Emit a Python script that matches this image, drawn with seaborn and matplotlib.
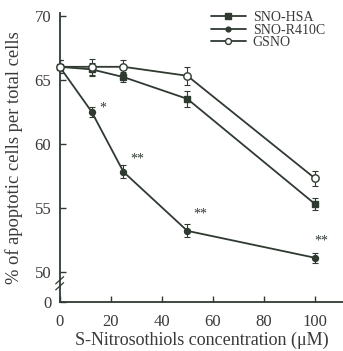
import numpy as np
import pandas as pd
import matplotlib
matplotlib.use("Agg")
import matplotlib.pyplot as plt
import seaborn as sns

conc = [0, 12.5, 25, 50, 100]
sno_hsa = [66.0, 65.8, 65.2, 63.5, 55.3]
sno_hsa_err = [0.5, 0.5, 0.4, 0.6, 0.5]
sno_r410c = [66.0, 62.5, 57.8, 53.2, 51.1]
sno_r410c_err = [0.5, 0.4, 0.5, 0.5, 0.4]
gsno = [66.0, 66.0, 66.0, 65.3, 57.3]
gsno_err = [0.5, 0.6, 0.5, 0.7, 0.6]
series_names = ["SNO-HSA", "SNO-R410C", "GSNO"]
annot_x = [17, 30.5, 55, 102.5]
annot_y = [62.8, 58.8, 54.5, 52.4]
annot_txt = ["*", "**", "**", "**"]
x_ticks = [0, 20, 40, 60, 80, 100]
y_ticks = [0, 50, 55, 60, 65, 70]

sns.set_style("ticks")
plt.rcParams['font.family'] = ['Liberation Serif', 'DejaVu Serif']

df = pd.DataFrame({
    "conc": conc * 3,
    "val": sno_hsa + sno_r410c + gsno,
    "series": [n for n in series_names for _ in conc],
})

LO = 47.66
K = (50 - LO) / 50.0

def fwd(y):
    y = np.asarray(y, dtype=float)
    return np.where(y >= 50, y, LO + y * K)

def inv(v):
    v = np.asarray(v, dtype=float)
    return np.where(v >= 50, v, (v - LO) / K)

col = "#2f3a31"
tcol = "#3a3a3a"
fig = plt.figure(figsize=(3.43, 3.51), dpi=100)
ax = fig.add_axes([0.174, 0.14, 0.826, 0.823])
ax.set_yscale('function', functions=(fwd, inv))

markers = {"SNO-HSA": "s", "SNO-R410C": "o", "GSNO": "o"}
sizes = {"SNO-HSA": 5, "SNO-R410C": 4.3, "GSNO": 5.3}
faces = {"SNO-HSA": col, "SNO-R410C": col, "GSNO": "white"}
errs = {"SNO-HSA": sno_hsa_err, "SNO-R410C": sno_r410c_err, "GSNO": gsno_err}
vals = {"SNO-HSA": sno_hsa, "SNO-R410C": sno_r410c, "GSNO": gsno}

for name in series_names:
    ax.errorbar(conc, vals[name], yerr=errs[name], fmt='none', ecolor=col,
                elinewidth=0.8, capsize=2.0, capthick=0.8, zorder=2)

for name in series_names:
    sub = df[df.series == name]
    sns.lineplot(data=sub, x="conc", y="val", ax=ax, color=col, lw=1.3,
                 marker=markers[name], markersize=sizes[name],
                 markerfacecolor=faces[name], markeredgecolor=col,
                 markeredgewidth=1.0, label=name, zorder=3, clip_on=False)

for x, y, t in zip(annot_x, annot_y, annot_txt):
    ax.text(x, y, t, fontsize=10, color=col, ha='center', va='center')

ax.set_xlim(0, 111)
ax.set_ylim(0, 70.2)
ax.set_xticks(x_ticks)
ax.set_yticks(y_ticks)
ax.tick_params(direction='in', length=4, width=1, colors=col, labelcolor=tcol, labelsize=12)
ax.xaxis.set_tick_params(pad=8.5)
ax.yaxis.set_tick_params(pad=6)
for s in ['top', 'right']:
    ax.spines[s].set_visible(False)
for s in ['left', 'bottom']:
    ax.spines[s].set_color(col)
    ax.spines[s].set_linewidth(1.3)

ax.set_xlabel("S-Nitrosothiols concentration (\u03bcM)", fontsize=13, color=tcol, labelpad=1.5)
ax.set_ylabel("% of apoptotic cells per total cells", fontsize=13.3, color=tcol, labelpad=8)

# axis break marks
btr = ax.get_yaxis_transform()
for y0 in [20, 30]:
    ax.plot([-0.014, 0.014], [y0, y0 + 12], color=col, lw=0.9, transform=btr,
            clip_on=False, zorder=5)

leg = ax.legend(loc='upper right', bbox_to_anchor=(0.965, 1.035), frameon=False, fontsize=10,
                handlelength=2.5, handletextpad=0.5, labelspacing=-0.05, borderaxespad=0.2,
                markerscale=0.8)
for t in leg.get_texts():
    t.set_color(tcol)

fig.savefig("out.png", dpi=100)
